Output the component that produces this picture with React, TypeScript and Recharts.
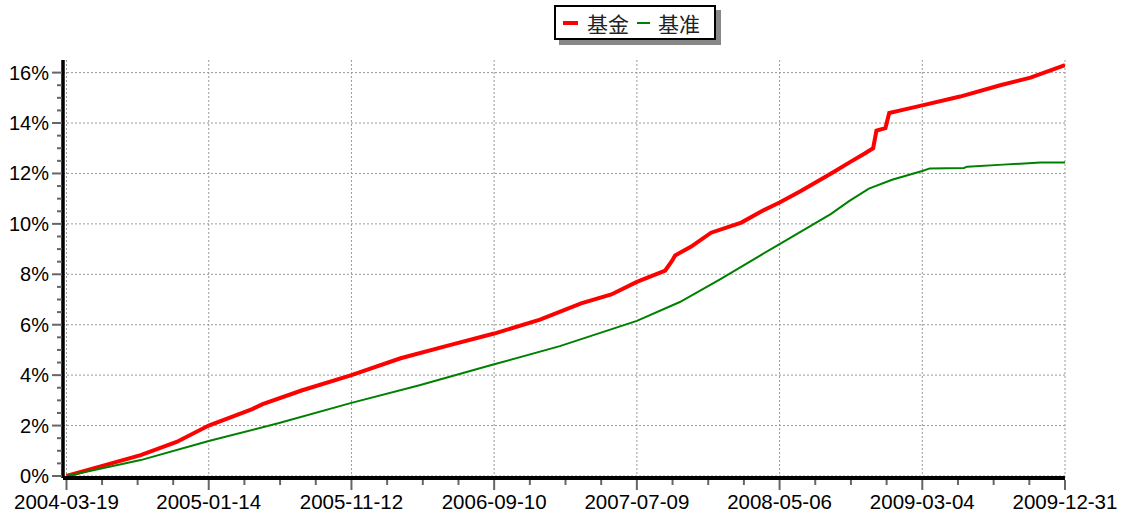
import { CartesianGrid, Line, LineChart, XAxis, YAxis } from "recharts";

// label dates on the x axis
const dateLabels = [
  "2004-03-19",
  "2005-01-14",
  "2005-11-12",
  "2006-09-10",
  "2007-07-09",
  "2008-05-06",
  "2009-03-04",
  "2009-12-31",
];

const yLabels = [0, 2, 4, 6, 8, 10, 12, 14, 16];

// 基金 (fund), cumulative %
const fundDates = [
  "2004-03-19", "2004-06-03", "2004-08-23", "2004-11-07", "2005-01-14",
  "2005-04-16", "2005-05-08", "2005-07-31", "2005-11-12", "2006-02-24",
  "2006-06-10", "2006-09-10", "2006-12-16", "2007-03-13", "2007-05-16",
  "2007-07-09", "2007-09-07", "2007-09-22", "2007-09-28", "2007-11-01",
  "2007-12-13", "2008-02-15", "2008-03-29", "2008-05-06", "2008-06-20",
  "2008-08-23", "2008-10-02", "2008-11-03", "2008-11-20", "2008-11-27",
  "2008-12-16", "2008-12-24", "2009-01-17", "2009-03-04", "2009-05-23",
  "2009-08-16", "2009-10-19", "2009-12-31",
];
const fundValues = [
  0, 0.4, 0.83, 1.35, 2.0,
  2.65, 2.85, 3.4, 4.0, 4.67,
  5.2, 5.65, 6.2, 6.85, 7.2,
  7.7, 8.15, 8.55, 8.75, 9.1,
  9.65, 10.05, 10.5, 10.85, 11.3,
  12.0, 12.45, 12.8, 13.0, 13.7,
  13.8, 14.4, 14.5, 14.7, 15.05,
  15.5, 15.8, 16.3,
];

// 基准 (benchmark), cumulative %
const benchDates = [
  "2004-03-19", "2004-08-23", "2005-01-14", "2005-06-12", "2005-11-12",
  "2006-04-05", "2006-09-10", "2007-01-27", "2007-07-09", "2007-10-08",
  "2008-01-01", "2008-05-06", "2008-08-23", "2008-09-30", "2008-11-11",
  "2008-12-30", "2009-03-04", "2009-03-20", "2009-05-31", "2009-06-07",
  "2009-08-22", "2009-11-09", "2009-12-31",
];
const benchValues = [
  0, 0.63, 1.39, 2.1, 2.9,
  3.6, 4.43, 5.15, 6.15, 6.9,
  7.8, 9.2, 10.4, 10.9, 11.4,
  11.75, 12.1, 12.2, 12.22, 12.27,
  12.35, 12.43, 12.43,
];

const toTs = (d: string) => {
  const [y, m, day] = d.split("-").map(Number);
  return Date.UTC(y, m - 1, day);
};

const fundData = fundDates.map((d, i) => ({ t: toTs(d), v: fundValues[i] }));
const benchData = benchDates.map((d, i) => ({ t: toTs(d), v: benchValues[i] }));

const majorX = dateLabels.map(toTs);
const xTicks: number[] = [];
majorX.forEach((t, i) => {
  xTicks.push(t);
  if (i < majorX.length - 1) {
    const step = (majorX[i + 1] - t) / 4;
    for (let k = 1; k < 4; k++) xTicks.push(t + step * k);
  }
});
const labelByTs = new Map(majorX.map((t, i) => [t, dateLabels[i]]));
// small gap between the y axis and the first date
const xPad = 7.4 * 86400000;

const yTicks: number[] = [];
for (let v = 0; v <= 16; v += 0.5) yTicks.push(v);

const FONT = "'Liberation Sans', Arial, sans-serif";

function XTick(props: any) {
  const { x, y, payload } = props;
  const label = labelByTs.get(payload.value);
  return (
    <g>
      <line
        x1={x}
        x2={x}
        y1={y + 2}
        y2={y + (label ? 12 : 7)}
        stroke="#666"
        strokeWidth={2}
      />
      {label && (
        <text
          x={x}
          y={y + 31}
          textAnchor="middle"
          fontSize={20.5}
          fontFamily={FONT}
          fill="#000"
        >
          {label}
        </text>
      )}
    </g>
  );
}

function YTick(props: any) {
  const { x, y, payload } = props;
  const major = payload.value % 2 === 0;
  return (
    <g>
      <line
        x1={x - (major ? 11 : 6)}
        x2={x - 1}
        y1={y}
        y2={y}
        stroke="#666"
        strokeWidth={2}
      />
      {major && (
        <text
          x={x - 14}
          y={y + 7}
          textAnchor="end"
          fontSize={20}
          fontFamily={FONT}
          fill="#000"
        >
          {`${payload.value}%`}
        </text>
      )}
    </g>
  );
}

export default function App() {
  return (
    <div
      style={{
        position: "absolute",
        left: 0,
        top: 0,
        width: 1127,
        height: 522,
        background: "#fff",
      }}
    >
      <LineChart
        width={1127}
        height={522}
        margin={{ top: 60, right: 62, bottom: 0, left: 0 }}
      >
        <CartesianGrid
          stroke="#999"
          strokeDasharray="2 2"
          horizontalValues={yLabels}
          verticalValues={majorX}
        />
        <XAxis
          dataKey="t"
          type="number"
          domain={[majorX[0] - xPad, majorX[majorX.length - 1]]}
          ticks={xTicks}
          interval={0}
          height={44}
          tickSize={0}
          tickMargin={0}
          tickLine={false}
          axisLine={{ stroke: "#000", strokeWidth: 4 }}
          tick={<XTick />}
          allowDataOverflow
        />
        <YAxis
          type="number"
          domain={[-0.08, 16.5]}
          ticks={yTicks}
          interval={0}
          width={63}
          tickSize={0}
          tickMargin={0}
          tickLine={false}
          axisLine={{ stroke: "#000", strokeWidth: 3.5 }}
          tick={<YTick />}
          allowDataOverflow
        />
        <Line
          data={fundData}
          dataKey="v"
          type="linear"
          stroke="#ff0000"
          strokeWidth={4}
          dot={false}
          isAnimationActive={false}
        />
        <Line
          data={benchData}
          dataKey="v"
          type="linear"
          stroke="#008000"
          strokeWidth={2}
          dot={false}
          isAnimationActive={false}
        />
      </LineChart>
      <div
        style={{
          position: "absolute",
          left: 554,
          top: 5,
          width: 158,
          height: 31,
          border: "2px solid #000",
          background: "#fff",
          boxShadow: "5px 5px 0 #888",
          display: "flex",
          alignItems: "center",
          fontFamily: "'Noto Sans CJK SC', sans-serif",
          fontSize: 21,
          color: "#222",
        }}
      >
        <span
          style={{
            display: "inline-block",
            width: 15,
            height: 4,
            background: "#ff0000",
            marginLeft: 7,
            marginRight: 9,
          }}
        />
        <span>基金</span>
        <span
          style={{
            display: "inline-block",
            width: 13,
            height: 2,
            background: "#008000",
            marginLeft: 8,
            marginRight: 8,
          }}
        />
        <span>基准</span>
      </div>
    </div>
  );
}
